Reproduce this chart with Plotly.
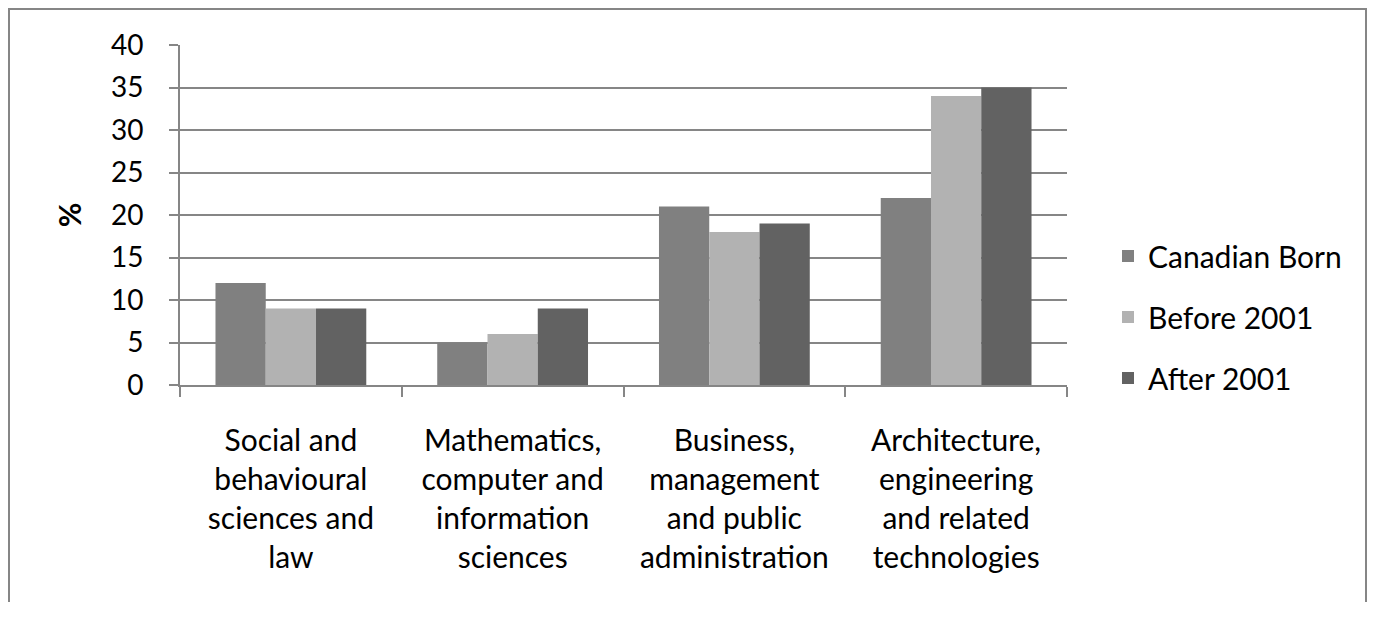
import plotly.graph_objects as go

categories = [
    "Social and<br>behavioural<br>sciences and<br>law",
    "Mathematics,<br>computer and<br>information<br>sciences",
    "Business,<br>management<br>and public<br>administration",
    "Architecture,<br>engineering<br>and related<br>technologies",
]
series_names = ["Canadian Born", "Before 2001", "After 2001"]
canadian_born = [12, 5, 21, 22]
before_2001 = [9, 6, 18, 34]
after_2001 = [9, 9, 19, 35]
y_ticks = [0, 5, 10, 15, 20, 25, 30, 35, 40]

colors = ["#808080", "#b2b2b2", "#626262"]
values = [canadian_born, before_2001, after_2001]

FONT = "Lato, 'Open Sans', sans-serif"

fig = go.Figure()
for name, vals, col in zip(series_names, values, colors):
    fig.add_trace(go.Bar(
        x=categories, y=vals, name=name, legendgroup=name,
        marker=dict(color=col, line=dict(width=0)),
    ))

# page body adds an 8px offset; compensate
OFF = 8
W, H = 1382 - OFF, 618 - 3 * OFF
L = 180 - OFF
T = 45 - OFF
pw, ph = 887, 340
R = W - L - pw
B = H - T - ph
bottom = T + ph

fig.update_layout(
    width=W, height=H,
    margin=dict(l=L, r=R, t=T, b=B, autoexpand=False),
    paper_bgcolor="rgba(0,0,0,0)", plot_bgcolor="white",
    barmode="group", bargap=0.32, bargroupgap=0,
    font=dict(family=FONT, size=28, color="black"),
    showlegend=True,
    legend=dict(
        x=(1108 - OFF - L) / pw, xanchor="left",
        y=(385 - 317) / ph, yanchor="middle",
        font=dict(family=FONT, size=30, color="black"),
        tracegroupgap=19,
        bgcolor="rgba(0,0,0,0)",
    ),
    xaxis=dict(
        type="category",
        showline=True, linecolor="#868686", linewidth=2,
        ticks="outside", tickson="boundaries", ticklen=10,
        tickcolor="#868686", tickwidth=2,
        ticklabelstandoff=28,
        tickfont=dict(family=FONT, size=30, color="black"),
        showgrid=False,
    ),
    yaxis=dict(
        range=[0, 40], tickvals=y_ticks,
        showline=True, linecolor="#868686", linewidth=2,
        ticks="outside", ticklen=9, tickcolor="#868686", tickwidth=2,
        ticklabelstandoff=20,
        tickfont=dict(family=FONT, size=28, color="black"),
        showgrid=True, gridcolor="#868686", gridwidth=2,
        zeroline=False,
        title=dict(text="<b>%</b>", standoff=20,
                   font=dict(family=FONT, size=30, color="black")),
    ),
    shapes=[dict(
        type="rect", xref="paper", yref="paper",
        x0=(9 - OFF - L) / pw, x1=(1366 - OFF - L) / pw,
        y0=(bottom - (H + 50)) / ph, y1=(bottom - (9 - OFF)) / ph,
        line=dict(color="#868686", width=2), fillcolor="rgba(0,0,0,0)",
        layer="above",
    )],
)

fig.write_html("out.html")
